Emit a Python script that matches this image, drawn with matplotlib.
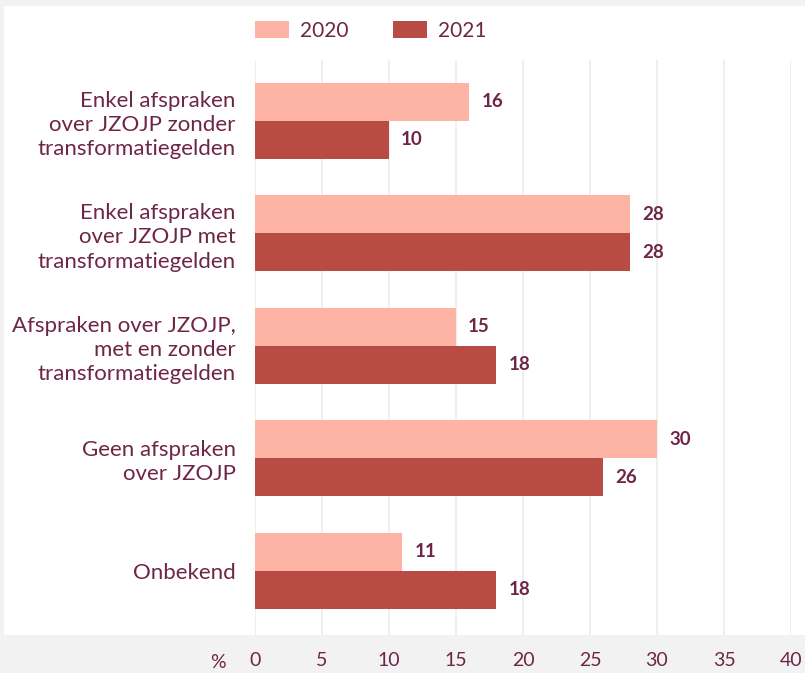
import matplotlib.pyplot as plt
from matplotlib.patches import Rectangle
import numpy as np

categories = [
    "Enkel afspraken\nover JZOJP zonder\ntransformatiegelden",
    "Enkel afspraken\nover JZOJP met\ntransformatiegelden",
    "Afspraken over JZOJP,\nmet en zonder\ntransformatiegelden",
    "Geen afspraken\nover JZOJP",
    "Onbekend",
]
values_2020 = [16, 28, 15, 30, 11]
values_2021 = [10, 28, 18, 26, 18]
series_names = ["2020", "2021"]
xticks = [0, 5, 10, 15, 20, 25, 30, 35, 40]

c2020 = "#fdb4a5"
c2021 = "#b84c45"
tcol = "#6e2646"
font = "Lato"

W, H = 805, 673
fig = plt.figure(figsize=(W / 100, H / 100), dpi=100, facecolor="#f2f2f2")
fig.patches.append(Rectangle((4 / W, (H - 635) / H), 1, (635 - 6) / H,
                             transform=fig.transFigure, facecolor="white",
                             edgecolor="none", zorder=-10))

ax = fig.add_axes([255 / W, (H - 635) / H, (791 - 255) / W, (635 - 60) / H])
ax.set_facecolor("none")
y = np.arange(len(categories))
h = 0.338
b1 = ax.barh(y - h / 2, values_2020, height=h, color=c2020, label=series_names[0], zorder=2)
b2 = ax.barh(y + h / 2, values_2021, height=h, color=c2021, label=series_names[1], zorder=2)
for bars, vals in ((b1, values_2020), (b2, values_2021)):
    for bar, v in zip(bars, vals):
        ax.text(v + 0.9, bar.get_y() + bar.get_height() / 2, str(v), va="center", ha="left",
                fontsize=13.5, fontweight="bold", color=tcol, family=font)

ax.set_xlim(0, 40)
ax.set_ylim(len(categories) - 1 + 0.57, -0.54)
ax.set_xticks(xticks)
ax.set_xticklabels([str(t) for t in xticks], family=font, fontsize=14, color=tcol)
ax.set_yticks(y)
ax.set_yticklabels(categories, family=font, fontsize=16, color=tcol, linespacing=1.26)
ax.tick_params(axis="x", length=0, pad=12)
ax.tick_params(axis="y", length=0, pad=14)
ax.grid(axis="x", color="#ececec", linewidth=1.2, zorder=0)
for s in ax.spines.values():
    s.set_visible(False)
fig.text(218 / W, 1 - 662 / H, "%", family=font, fontsize=14, color=tcol, ha="center", va="center")

leg = fig.legend(handles=[b1, b2], labels=series_names, loc="center left",
                 bbox_to_anchor=(236 / W, 1 - 31 / H), ncol=2, frameon=False,
                 prop={"family": font, "size": 15}, handlelength=1.65, handleheight=0.85,
                 columnspacing=2.15, handletextpad=0.5)
for t in leg.get_texts():
    t.set_color(tcol)

fig.savefig("out.png", dpi=100, facecolor=fig.get_facecolor())
